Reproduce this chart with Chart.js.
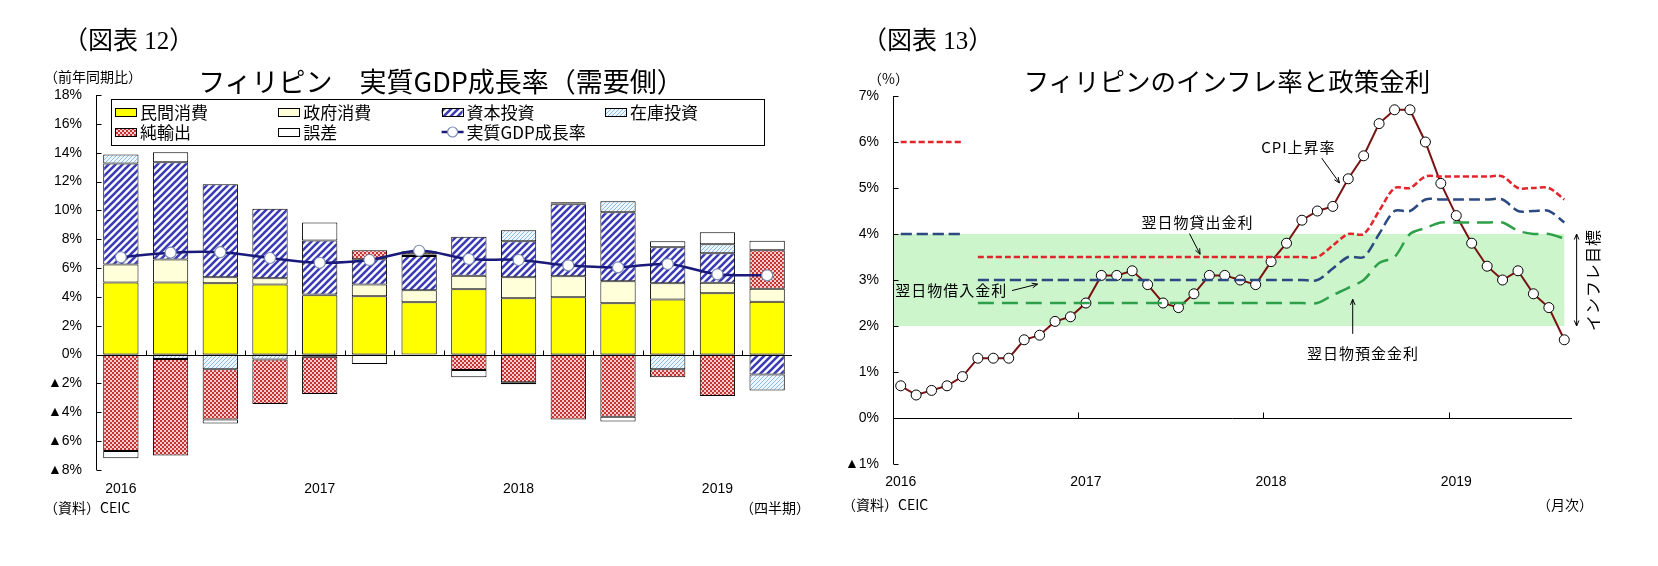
<!DOCTYPE html>
<html lang="ja">
<head>
<meta charset="utf-8">
<script src="https://cdn.jsdelivr.net/npm/chart.js@4.4.1/dist/chart.umd.min.js"></script>
<style>
  body { margin: 0; background: #fff; width: 1658px; height: 566px; overflow: hidden; position: relative;
         font-family: "Noto Sans CJK JP", sans-serif; color: #000; }
  canvas { position: absolute; top: 0; }
  #gdp { left: 0; }
  #cpi { left: 820px; }
  .t { position: absolute; white-space: nowrap; line-height: 1; transform: translateY(-50%); }
  .serif { font-family: "Liberation Serif", "DejaVu Serif", "Noto Sans CJK JP", serif; font-size: 25px; }
  .title { font-size: 25.5px; transform: translate(-50%, -50%); }
  .small { font-size: 14px; }
</style>
</head>
<body>
<canvas id="gdp" width="820" height="566"></canvas>
<canvas id="cpi" width="838" height="566"></canvas>

<div class="t serif" style="left:63px; top:40px;">（図表 12）</div>
<div class="t serif" style="left:862px; top:40px;">（図表 13）</div>
<div class="t title" style="left:441px; top:80px; font-size:27px;">フィリピン　実質GDP成長率（需要側）</div>
<div class="t title" style="left:1227px; top:80px;">フィリピンのインフレ率と政策金利</div>
<div class="t small" style="left:44px; top:76px;">（前年同期比）</div>
<div class="t small" style="left:868px; top:78px;">（%）</div>
<div class="t small" style="left:44px; top:507px;">（資料）CEIC</div>
<div class="t small" style="left:740px; top:507px;">（四半期）</div>
<div class="t small" style="left:842px; top:504px;">（資料）CEIC</div>
<div class="t small" style="left:1537px; top:504px;">（月次）</div>

<script>
// ---- 図表12: 実質GDP成長率（需要側）, 寄与度 %pt ----
const quarters = ['2016Q1', '2016Q2', '2016Q3', '2016Q4', '2017Q1', '2017Q2', '2017Q3', '2017Q4',
                  '2018Q1', '2018Q2', '2018Q3', '2018Q4', '2019Q1', '2019Q2'];
const privateCons = [5.0, 5.0, 4.94, 4.87, 4.11, 4.04, 3.63, 4.53, 3.9, 3.97, 3.56, 3.83, 4.25, 3.67];
const govCons     = [1.25, 1.6, 0.42, 0.42, 0.05, 0.83, 0.83, 0.94, 1.46, 1.46, 1.52, 1.11, 0.74, 0.9];
const capInv      = [7.0, 6.74, 6.45, 4.83, 3.75, 1.74, 2.38, 2.71, 2.5, 4.99, 4.79, 2.5, 2.03, -1.37];
const inventory   = [0.62, -0.3, -1.02, -0.33, -0.15, null, 0.1, null, 0.76, 0.05, 0.76, -1.02, 0.63, -1.11];
const netExports  = [-6.69, -6.7, -3.47, -3.1, -2.58, 0.62, 0.15, -1.07, -1.92, -4.49, -4.3, -0.55, -2.87, 2.66];
const discrepancy = [-0.5, 0.69, -0.28, null, 1.25, -0.65, 0.07, -0.5, -0.14, 0.09, -0.33, 0.42, 0.83, 0.67];
const gdpGrowth   = [6.75, 7.07, 7.1, 6.7, 6.37, 6.56, 7.2, 6.63, 6.56, 6.19, 6.05, 6.28, 5.57, 5.5];

// ---- 図表13: インフレ率と政策金利 (月次, %) ----
const months = ['2016-01', '2016-02', '2016-03', '2016-04', '2016-05', '2016-06', '2016-07', '2016-08', '2016-09', '2016-10', '2016-11', '2016-12',
                '2017-01', '2017-02', '2017-03', '2017-04', '2017-05', '2017-06', '2017-07', '2017-08', '2017-09', '2017-10', '2017-11', '2017-12',
                '2018-01', '2018-02', '2018-03', '2018-04', '2018-05', '2018-06', '2018-07', '2018-08', '2018-09', '2018-10', '2018-11', '2018-12',
                '2019-01', '2019-02', '2019-03', '2019-04', '2019-05', '2019-06', '2019-07', '2019-08'];
const cpi = [0.7, 0.5, 0.6, 0.7, 0.9, 1.3, 1.3, 1.3, 1.7, 1.8, 2.1, 2.2,
             2.5, 3.1, 3.1, 3.2, 2.9, 2.5, 2.4, 2.7, 3.1, 3.1, 3.0, 2.9,
             3.4, 3.8, 4.3, 4.5, 4.6, 5.2, 5.7, 6.4, 6.7, 6.7, 6.0, 5.1,
             4.4, 3.8, 3.3, 3.0, 3.2, 2.7, 2.4, 1.7];
// 金利コリドー導入前 (2016年1-5月)
const lendingPre   = [6, 6, 6, 6, 6];
const borrowingPre = [4, 4, 4, 4, 4];
// 金利コリドー導入後 (2016年6月-2019年8月)
const lending   = [3.5, 3.5, 3.5, 3.5, 3.5, 3.5, 3.5, 3.5, 3.5, 3.5, 3.5, 3.5, 3.5, 3.5, 3.5, 3.5, 3.5, 3.5, 3.5, 3.5, 3.5, 3.5, 3.5,
                   3.75, 4.0, 4.0, 4.5, 5.0, 5.0, 5.25, 5.25, 5.25, 5.25, 5.25, 5.25, 5.0, 5.0, 5.0, 4.75];
const borrowing = [3.0, 3.0, 3.0, 3.0, 3.0, 3.0, 3.0, 3.0, 3.0, 3.0, 3.0, 3.0, 3.0, 3.0, 3.0, 3.0, 3.0, 3.0, 3.0, 3.0, 3.0, 3.0, 3.0,
                   3.25, 3.5, 3.5, 4.0, 4.5, 4.5, 4.75, 4.75, 4.75, 4.75, 4.75, 4.75, 4.5, 4.5, 4.5, 4.25];
const deposit   = [2.5, 2.5, 2.5, 2.5, 2.5, 2.5, 2.5, 2.5, 2.5, 2.5, 2.5, 2.5, 2.5, 2.5, 2.5, 2.5, 2.5, 2.5, 2.5, 2.5, 2.5, 2.5, 2.5,
                   2.67, 2.83, 3.0, 3.37, 3.5, 4.0, 4.13, 4.25, 4.25, 4.25, 4.25, 4.25, 4.07, 4.0, 4.0, 3.9];
const targetLow = 2, targetHigh = 4;

Chart.defaults.font.family = '"Liberation Sans", "Noto Sans CJK JP", sans-serif';
Chart.defaults.font.size = 14;
Chart.defaults.color = '#000';

function makePattern(size, draw) {
  const c = document.createElement('canvas');
  c.width = c.height = size;
  const g = c.getContext('2d');
  draw(g, size);
  return g.createPattern(c, 'repeat');
}
function diag(g, s, color, w) {
  g.strokeStyle = color; g.lineWidth = w;
  g.beginPath();
  g.moveTo(-1, s + 1); g.lineTo(s + 1, -1);
  g.moveTo(-1, 1); g.lineTo(1, -1);
  g.moveTo(s - 1, s + 1); g.lineTo(s + 1, s - 1);
  g.stroke();
}
const capPattern = makePattern(7, (g, s) => { g.fillStyle = '#fff'; g.fillRect(0, 0, s, s); diag(g, s, '#3b3bb5', 2.6); });
const invPattern = makePattern(4, (g, s) => { g.fillStyle = '#eef6fd'; g.fillRect(0, 0, s, s); diag(g, s, '#8cbde9', 1); });
const nxPattern = makePattern(4, (g, s) => {
  g.fillStyle = '#f6cccc'; g.fillRect(0, 0, s, s);
  g.fillStyle = '#c73434'; g.fillRect(0, 0, 2, 2); g.fillRect(2, 2, 2, 2);
});

function arrowHead(ctx, x1, y1, x2, y2, len) {
  const ang = Math.atan2(y2 - y1, x2 - x1);
  ctx.moveTo(x2 - len * Math.cos(ang - 0.4), y2 - len * Math.sin(ang - 0.4));
  ctx.lineTo(x2, y2);
  ctx.lineTo(x2 - len * Math.cos(ang + 0.4), y2 - len * Math.sin(ang + 0.4));
}

// left chart: axes with inside ticks, zero line, boxed legend
const gdpDecor = {
  id: 'gdpDecor',
  afterDatasetsDraw(chart) {
    const { ctx, chartArea: a, scales: { x, y } } = chart;
    ctx.save();
    ctx.strokeStyle = '#000';
    ctx.lineWidth = 1;
    ctx.beginPath();
    const ax = Math.round(a.left) + 0.5;
    ctx.moveTo(ax, a.top); ctx.lineTo(ax, a.bottom);
    y.ticks.forEach(t => {
      const py = Math.round(y.getPixelForValue(t.value)) + 0.5;
      ctx.moveTo(ax, py); ctx.lineTo(ax + 5, py);
    });
    const y0 = Math.round(y.getPixelForValue(0)) + 0.5;
    ctx.moveTo(a.left, y0); ctx.lineTo(a.right, y0);
    for (let i = 1; i < quarters.length; i++) {
      const px = Math.round(x.getPixelForValue(i - 0.5)) + 0.5;
      ctx.moveTo(px, y0); ctx.lineTo(px, y0 - 5);
    }
    ctx.stroke();
    ctx.restore();
  },
  afterDraw(chart) {
    const { ctx, chartArea: a } = chart;
    const bx = a.left + 15, by = a.top + 4, bw = 653, bh = 46;
    ctx.save();
    ctx.fillStyle = '#fff';
    ctx.fillRect(bx, by, bw, bh);
    ctx.strokeStyle = '#000';
    ctx.lineWidth = 1;
    ctx.strokeRect(Math.round(bx) + 0.5, Math.round(by) + 0.5, bw, bh);
    ctx.font = '17px "Noto Sans CJK JP", sans-serif';
    ctx.textBaseline = 'middle';
    chart.data.datasets.forEach((ds, i) => {
      const col = i % 4, row = Math.floor(i / 4);
      const sx = bx + 4 + col * 163.3, sy = by + 13 + row * 20;
      if (ds.type === 'line') {
        ctx.strokeStyle = ds.borderColor; ctx.lineWidth = 2.5;
        ctx.beginPath(); ctx.moveTo(sx, sy); ctx.lineTo(sx + 22, sy); ctx.stroke();
        ctx.fillStyle = '#fff'; ctx.strokeStyle = ds.pointBorderColor; ctx.lineWidth = 1.2;
        ctx.beginPath(); ctx.arc(sx + 11, sy, 5, 0, Math.PI * 2); ctx.fill(); ctx.stroke();
      } else {
        ctx.fillStyle = ds.backgroundColor;
        ctx.fillRect(sx, sy - 4, 21, 8);
        ctx.strokeStyle = '#000'; ctx.lineWidth = 1;
        ctx.strokeRect(Math.round(sx) + 0.5, Math.round(sy - 4) + 0.5, 21, 8);
      }
      ctx.fillStyle = '#000';
      ctx.fillText(ds.label, sx + 25, sy + 1);
    });
    ctx.restore();
  }
};

const barBase = { type: 'bar', borderColor: '#000', borderWidth: 1, borderSkipped: false,
                  barPercentage: 0.71, categoryPercentage: 1, order: 1 };

new Chart(document.getElementById('gdp'), {
  data: {
    labels: quarters,
    datasets: [
      { ...barBase, label: '民間消費', data: privateCons, backgroundColor: '#ffff00' },
      { ...barBase, label: '政府消費', data: govCons, backgroundColor: '#ffffd9' },
      { ...barBase, label: '資本投資', data: capInv, backgroundColor: capPattern },
      { ...barBase, label: '在庫投資', data: inventory, backgroundColor: invPattern },
      { ...barBase, label: '純輸出', data: netExports, backgroundColor: nxPattern },
      { ...barBase, label: '誤差', data: discrepancy, backgroundColor: '#ffffff' },
      { type: 'line', label: '実質GDP成長率', data: gdpGrowth, stack: 'gdp', order: 0,
        borderColor: '#1a1a7a', borderWidth: 2.5, tension: 0.35,
        pointRadius: 5.5, pointBackgroundColor: '#fff', pointBorderColor: '#7d8db3', pointBorderWidth: 1.2 }
    ]
  },
  options: {
    responsive: false,
    animation: false,
    layout: { padding: { left: 0, top: 95, right: 28, bottom: 66 } },
    plugins: { legend: { display: false }, tooltip: { enabled: false } },
    scales: {
      x: {
        stacked: true,
        grid: { display: false, drawTicks: false },
        border: { display: false },
        ticks: { padding: 11, maxRotation: 0, autoSkip: false,
                 callback: (v, i) => i % 4 === 0 ? quarters[i].slice(0, 4) : '' },
        afterFit: s => { s.height = 30; }
      },
      y: {
        stacked: true,
        min: -8, max: 18,
        grid: { display: false, drawTicks: false },
        border: { display: false },
        ticks: { stepSize: 2, padding: 14,
                 callback: v => v < 0 ? '▲' + Math.abs(v) + '%' : v + '%' },
        afterFit: s => { s.width = 96; }
      }
    }
  },
  plugins: [gdpDecor]
});

// right chart
const nMonths = months.length;
const padPre = arr => arr.concat(new Array(nMonths - arr.length).fill(null));
const padPost = arr => new Array(nMonths - arr.length).fill(null).concat(arr);

const cpiDecor = {
  id: 'cpiDecor',
  beforeDatasetsDraw(chart) {
    const { ctx, chartArea: a, scales: { x, y } } = chart;
    const top = y.getPixelForValue(targetHigh), bot = y.getPixelForValue(targetLow);
    ctx.save();
    ctx.fillStyle = '#ccf5cc';
    ctx.fillRect(a.left, top, x.getPixelForValue(nMonths - 1) - a.left, bot - top);
    ctx.restore();
  },
  afterDatasetsDraw(chart) {
    const { ctx, chartArea: a, scales: { x, y } } = chart;
    ctx.save();
    ctx.strokeStyle = '#000';
    ctx.lineWidth = 1;
    ctx.beginPath();
    const ax = Math.round(a.left) + 0.5;
    ctx.moveTo(ax, a.top); ctx.lineTo(ax, a.bottom);
    y.ticks.forEach(t => {
      const py = Math.round(y.getPixelForValue(t.value)) + 0.5;
      ctx.moveTo(ax, py); ctx.lineTo(ax + 5, py);
    });
    const y0 = Math.round(y.getPixelForValue(0)) + 0.5;
    ctx.moveTo(a.left, y0); ctx.lineTo(a.right, y0);
    for (let i = 12; i < nMonths; i += 12) {
      const px = Math.round(x.getPixelForValue(i - 0.5)) + 0.5;
      ctx.moveTo(px, y0); ctx.lineTo(px, y0 - 6);
    }
    ctx.stroke();
    ctx.restore();
  },
  afterDraw(chart) {
    const { ctx, scales: { x, y } } = chart;
    const P = (i, v) => [x.getPixelForValue(i), y.getPixelForValue(v)];
    ctx.save();
    ctx.fillStyle = '#000';
    ctx.strokeStyle = '#000';
    ctx.lineWidth = 1;
    ctx.font = '15px "Noto Sans CJK JP", sans-serif';
    ctx.textAlign = 'center';
    ctx.textBaseline = 'middle';
    const label = (txt, i, v) => { const [px, py] = P(i, v); ctx.fillText(txt, px, py); };
    const arrow = (i1, v1, i2, v2) => {
      const [x1, y1] = P(i1, v1), [x2, y2] = P(i2, v2);
      ctx.beginPath(); ctx.moveTo(x1, y1); ctx.lineTo(x2, y2); arrowHead(ctx, x1, y1, x2, y2, 6); ctx.stroke();
    };
    ctx.letterSpacing = '1px';
    label('CPI上昇率', 25.77, 5.89);
    arrow(27.28, 5.65, 28.43, 5.11);
    label('翌日物貸出金利', 19.24, 4.26);
    arrow(18.71, 4.01, 19.4, 3.56);
    label('翌日物借入金利', 3.28, 2.78);
    arrow(7.21, 2.77, 8.87, 2.91);
    label('翌日物預金金利', 29.96, 1.41);
    arrow(29.29, 1.83, 29.29, 2.58);
    // inflation target range
    const [tx, ty1] = P(43.8, targetHigh), [, ty2] = P(43.8, targetLow);
    ctx.beginPath();
    ctx.moveTo(tx, ty1); ctx.lineTo(tx, ty2);
    arrowHead(ctx, tx, ty2, tx, ty1, 6);
    arrowHead(ctx, tx, ty1, tx, ty2, 6);
    ctx.stroke();
    const [lx, ly] = P(44.83, (targetHigh + targetLow) / 2);
    ctx.translate(lx, ly);
    ctx.rotate(-Math.PI / 2);
    ctx.font = '16px "Noto Sans CJK JP", sans-serif';
    ctx.fillText('インフレ目標', 0, 0);
    ctx.restore();
  }
};

const rateLine = { type: 'line', pointRadius: 0, borderWidth: 2.5, tension: 0.3, fill: false, spanGaps: false };

new Chart(document.getElementById('cpi'), {
  data: {
    labels: months,
    datasets: [
      { ...rateLine, label: '翌日物貸出金利', data: padPre(lendingPre), borderColor: '#e3242b', borderDash: [6, 3] },
      { ...rateLine, label: '翌日物借入金利', data: padPre(borrowingPre), borderColor: '#2c4a82', borderDash: [11, 5] },
      { ...rateLine, label: '翌日物貸出金利', data: padPost(lending), borderColor: '#e3242b', borderDash: [6, 3] },
      { ...rateLine, label: '翌日物借入金利', data: padPost(borrowing), borderColor: '#2c4a82', borderDash: [11, 5] },
      { ...rateLine, label: '翌日物預金金利', data: padPost(deposit), borderColor: '#2fa04a', borderDash: [16, 8] },
      { type: 'line', label: 'CPI上昇率', data: cpi, borderColor: '#7a1212', borderWidth: 2, tension: 0,
        pointRadius: 5, pointBackgroundColor: '#fff', pointBorderColor: '#000', pointBorderWidth: 1 }
    ]
  },
  options: {
    responsive: false,
    animation: false,
    layout: { padding: { left: 0, top: 96, right: 86, bottom: 72 } },
    plugins: { legend: { display: false }, tooltip: { enabled: false } },
    scales: {
      x: {
        offset: true,
        grid: { display: false, drawTicks: false },
        border: { display: false },
        ticks: { padding: 10, maxRotation: 0, autoSkip: false,
                 callback: (v, i) => i % 12 === 0 ? months[i].slice(0, 4) : '' },
        afterFit: s => { s.height = 30; }
      },
      y: {
        min: -1, max: 7,
        grid: { display: false, drawTicks: false },
        border: { display: false },
        ticks: { stepSize: 1, padding: 14,
                 callback: v => v < 0 ? '▲' + Math.abs(v) + '%' : v + '%' },
        afterFit: s => { s.width = 73; }
      }
    }
  },
  plugins: [cpiDecor]
});
</script>
</body>
</html>
